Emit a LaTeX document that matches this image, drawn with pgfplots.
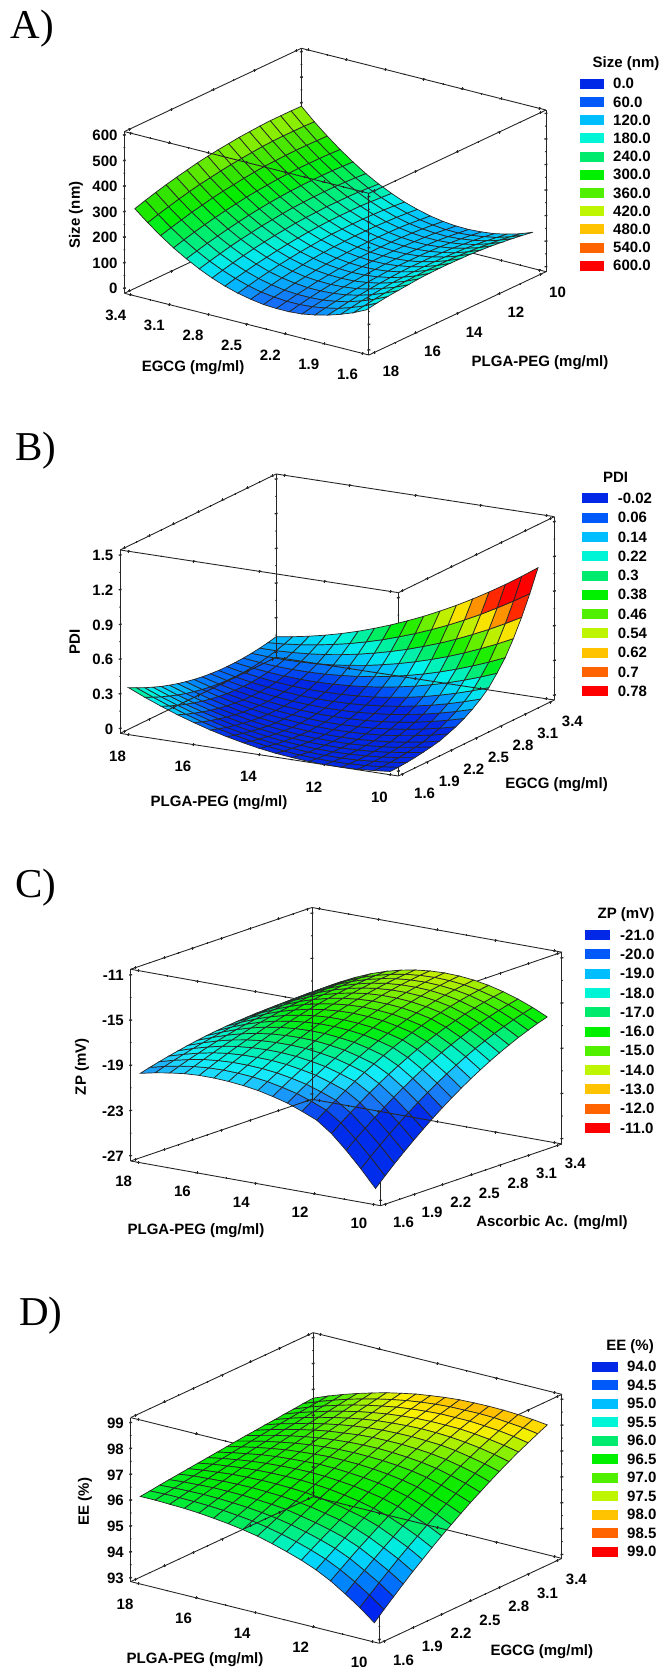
\documentclass[border=0pt]{standalone}
\usepackage{pgfplots}
\pgfplotsset{compat=1.18}
\usepackage{fontspec}
\setmainfont{Liberation Sans}
\newfontfamily\serifpanel{Liberation Serif}
\newcommand{\lf}{\fontsize{15}{15}\selectfont\bfseries}
\definecolor{c0}{RGB}{0,40,230}
\definecolor{c1}{RGB}{0,90,250}
\definecolor{c2}{RGB}{0,190,255}
\definecolor{c3}{RGB}{0,245,215}
\definecolor{c4}{RGB}{0,235,110}
\definecolor{c5}{RGB}{0,240,0}
\definecolor{c6}{RGB}{80,240,0}
\definecolor{c7}{RGB}{190,245,0}
\definecolor{c8}{RGB}{255,195,0}
\definecolor{c9}{RGB}{255,100,0}
\definecolor{c10}{RGB}{255,0,0}
\pgfplotsset{
 panel/.style={
  anchor=south west, clip=false, 3d box=complete*,
  axis line style={black!85,line width=0.9pt},
  tick style={black!85,line width=0.7pt},
  major tick length=3pt, minor tick length=1.5pt,
  minor x tick num=1, minor y tick num=1, minor z tick num=1,
  tick align=center,
  grid=none,
  tick label style={font=\lf,black},
 },
 srf/.style={surf,shader=faceted,faceted color=black!85,line width=0.7pt,z buffer=sort,point meta=z},
}
\newcommand{\sglegend}[9]{%
 \node[font=\lf,anchor=center] at (#6,-#7) {#8};
 \foreach \lab [count=\i from 0] in {#9} {
  \fill[c\i] (#1,{-(#4+\i*#5)-5}) rectangle (#2,{-(#4+\i*#5)+5});
  \node[font=\lf,anchor=west,inner sep=0pt] at (#3,{-(#4+\i*#5)}) {\lab};
 }}
\begin{document}
\begin{tikzpicture}[x=1pt,y=1pt]
\useasboundingbox (0,0) rectangle (661,-1667);
\begin{axis}[panel,at={(124.4pt,-355pt)},
 x={(-128.7pt,32.5pt)},y={(-20.83pt,-9.80pt)},z={(0pt,0.2554pt)},
 xmin=1.55,xmax=3.45,ymin=9.75,ymax=18.25,zmin=-20,zmax=613,
 xtick={1.6,1.9,2.2,2.5,2.8,3.1,3.4},xticklabels={1.6,1.9,2.2,2.5,2.8,3.1,3.4},
 ytick={10,12,14,16,18},yticklabels={10,12,14,16,18},
 ztick={0,100,200,300,400,500,600},zticklabels={0,100,200,300,400,500,600},
 xticklabel style={anchor=center,xshift=-13.7pt,yshift=-20.3pt},
 yticklabel style={anchor=center,xshift=15.3pt,yshift=-18.2pt},
 zticklabel style={anchor=east,xshift=-2pt},
 colormap={sga}{rgb255=(20,110,250) rgb255=(20,110,250) rgb255=(20,110,250) rgb255=(6,180,255) rgb255=(0,210,252) rgb255=(0,238,232) rgb255=(0,239,178) rgb255=(0,238,130) rgb255=(0,238,97) rgb255=(0,238,50) rgb255=(0,238,0) rgb255=(25,233,0) rgb255=(50,228,0) rgb255=(83,232,0) rgb255=(118,236,0) rgb255=(155,239,0) rgb255=(180,240,0)},
 point meta min=0,point meta max=400,
 xlabel={EGCG (mg/ml)},ylabel={PLGA-PEG (mg/ml)},zlabel={Size (nm)},
 every axis x label/.style={font=\lf,at={(axis cs:2.5,18.25,-20)},anchor=center,xshift=-53.6pt,yshift=-43.9pt},
 every axis y label/.style={font=\lf,at={(axis cs:1.55,14,-20)},anchor=center,xshift=82.6pt,yshift=-49.65pt},
 every axis z label/.style={font=\lf,at={(axis cs:3.45,18.25,300)},anchor=center,xshift=-48.4pt,yshift=-3.4pt,rotate=90},
]
\addplot3[srf,mesh/cols=17] table {
1.65 9.75 122
1.65 10.25 129
1.65 10.75 135
1.65 11.25 140
1.65 11.75 145
1.65 12.25 148
1.65 12.75 151
1.65 13.25 152
1.65 13.75 153
1.65 14.25 153
1.65 14.75 152
1.65 15.25 150
1.65 15.75 146
1.65 16.25 142
1.65 16.75 138
1.65 17.25 132
1.65 17.75 125
1.75 9.75 103
1.75 10.25 110
1.75 10.75 116
1.75 11.25 121
1.75 11.75 125
1.75 12.25 128
1.75 12.75 131
1.75 13.25 132
1.75 13.75 132
1.75 14.25 132
1.75 14.75 130
1.75 15.25 128
1.75 15.75 124
1.75 16.25 120
1.75 16.75 115
1.75 17.25 108
1.75 17.75 101
1.85 9.75 89
1.85 10.25 95
1.85 10.75 101
1.85 11.25 106
1.85 11.75 110
1.85 12.25 112
1.85 12.75 114
1.85 13.25 115
1.85 13.75 115
1.85 14.25 114
1.85 14.75 112
1.85 15.25 110
1.85 15.75 106
1.85 16.25 101
1.85 16.75 96
1.85 17.25 89
1.85 17.75 82
1.95 9.75 78
1.95 10.25 85
1.95 10.75 90
1.95 11.25 94
1.95 11.75 98
1.95 12.25 100
1.95 12.75 102
1.95 13.25 102
1.95 13.75 102
1.95 14.25 101
1.95 14.75 98
1.95 15.25 95
1.95 15.75 91
1.95 16.25 86
1.95 16.75 80
1.95 17.25 73
1.95 17.75 66
2.05 9.75 72
2.05 10.25 78
2.05 10.75 83
2.05 11.25 87
2.05 11.75 90
2.05 12.25 92
2.05 12.75 93
2.05 13.25 93
2.05 13.75 93
2.05 14.25 91
2.05 14.75 88
2.05 15.25 85
2.05 15.75 80
2.05 16.25 75
2.05 16.75 69
2.05 17.25 62
2.05 17.75 54
2.15 9.75 69
2.15 10.25 74
2.15 10.75 79
2.15 11.25 83
2.15 11.75 85
2.15 12.25 87
2.15 12.75 88
2.15 13.25 88
2.15 13.75 87
2.15 14.25 85
2.15 14.75 82
2.15 15.25 78
2.15 15.75 74
2.15 16.25 68
2.15 16.75 61
2.15 17.25 54
2.15 17.75 45
2.25 9.75 70
2.25 10.25 75
2.25 10.75 80
2.25 11.25 83
2.25 11.75 85
2.25 12.25 87
2.25 12.75 87
2.25 13.25 87
2.25 13.75 86
2.25 14.25 83
2.25 14.75 80
2.25 15.25 76
2.25 15.75 71
2.25 16.25 65
2.25 16.75 58
2.25 17.25 50
2.25 17.75 41
2.35 9.75 75
2.35 10.25 80
2.35 10.75 84
2.35 11.25 87
2.35 11.75 89
2.35 12.25 90
2.35 12.75 90
2.35 13.25 89
2.35 13.75 88
2.35 14.25 85
2.35 14.75 82
2.35 15.25 77
2.35 15.75 72
2.35 16.25 65
2.35 16.75 58
2.35 17.25 50
2.35 17.75 41
2.45 9.75 84
2.45 10.25 88
2.45 10.75 92
2.45 11.25 95
2.45 11.75 96
2.45 12.25 97
2.45 12.75 97
2.45 13.25 96
2.45 13.75 94
2.45 14.25 91
2.45 14.75 87
2.45 15.25 82
2.45 15.75 76
2.45 16.25 70
2.45 16.75 62
2.45 17.25 54
2.45 17.75 44
2.55 9.75 97
2.55 10.25 101
2.55 10.75 104
2.55 11.25 106
2.55 11.75 108
2.55 12.25 108
2.55 12.75 108
2.55 13.25 106
2.55 13.75 104
2.55 14.25 101
2.55 14.75 97
2.55 15.25 91
2.55 15.75 85
2.55 16.25 78
2.55 16.75 70
2.55 17.25 61
2.55 17.75 52
2.65 9.75 113
2.65 10.25 117
2.65 10.75 120
2.65 11.25 122
2.65 11.75 123
2.65 12.25 123
2.65 12.75 122
2.65 13.25 121
2.65 13.75 118
2.65 14.25 114
2.65 14.75 110
2.65 15.25 104
2.65 15.75 98
2.65 16.25 90
2.65 16.75 82
2.65 17.25 73
2.65 17.75 63
2.75 9.75 134
2.75 10.25 137
2.75 10.75 140
2.75 11.25 142
2.75 11.75 142
2.75 12.25 142
2.75 12.75 141
2.75 13.25 139
2.75 13.75 136
2.75 14.25 132
2.75 14.75 127
2.75 15.25 121
2.75 15.75 114
2.75 16.25 107
2.75 16.75 98
2.75 17.25 89
2.75 17.75 78
2.85 9.75 158
2.85 10.25 161
2.85 10.75 164
2.85 11.25 165
2.85 11.75 165
2.85 12.25 165
2.85 12.75 163
2.85 13.25 161
2.85 13.75 158
2.85 14.25 153
2.85 14.75 148
2.85 15.25 142
2.85 15.75 135
2.85 16.25 127
2.85 16.75 118
2.85 17.25 108
2.85 17.75 97
2.95 9.75 186
2.95 10.25 189
2.95 10.75 191
2.95 11.25 192
2.95 11.75 192
2.95 12.25 191
2.95 12.75 189
2.95 13.25 187
2.95 13.75 183
2.95 14.25 178
2.95 14.75 173
2.95 15.25 166
2.95 15.75 159
2.95 16.25 151
2.95 16.75 141
2.95 17.25 131
2.95 17.75 120
3.05 9.75 219
3.05 10.25 221
3.05 10.75 223
3.05 11.25 223
3.05 11.75 223
3.05 12.25 222
3.05 12.75 220
3.05 13.25 217
3.05 13.75 213
3.05 14.25 208
3.05 14.75 202
3.05 15.25 195
3.05 15.75 187
3.05 16.25 178
3.05 16.75 169
3.05 17.25 158
3.05 17.75 147
3.15 9.75 255
3.15 10.25 257
3.15 10.75 258
3.15 11.25 258
3.15 11.75 258
3.15 12.25 256
3.15 12.75 254
3.15 13.25 250
3.15 13.75 246
3.15 14.25 241
3.15 14.75 234
3.15 15.25 227
3.15 15.75 219
3.15 16.25 210
3.15 16.75 200
3.15 17.25 189
3.15 17.75 177
3.25 9.75 295
3.25 10.25 296
3.25 10.75 297
3.25 11.25 297
3.25 11.75 296
3.25 12.25 294
3.25 12.75 292
3.25 13.25 288
3.25 13.75 283
3.25 14.25 277
3.25 14.75 271
3.25 15.25 264
3.25 15.75 255
3.25 16.25 246
3.25 16.75 235
3.25 17.25 224
3.25 17.75 212
3.35 9.75 338
3.35 10.25 340
3.35 10.75 340
3.35 11.25 340
3.35 11.75 339
3.35 12.25 337
3.35 12.75 333
3.35 13.25 329
3.35 13.75 324
3.35 14.25 318
3.35 14.75 311
3.35 15.25 304
3.35 15.75 295
3.35 16.25 285
3.35 16.75 274
3.35 17.25 263
3.35 17.75 250
3.45 9.75 386
3.45 10.25 387
3.45 10.75 387
3.45 11.25 387
3.45 11.75 385
3.45 12.25 382
3.45 12.75 379
3.45 13.25 374
3.45 13.75 369
3.45 14.25 363
3.45 14.75 356
3.45 15.25 347
3.45 15.75 338
3.45 16.25 328
3.45 16.75 317
3.45 17.25 305
3.45 17.75 292
};
\end{axis}
\begin{axis}[panel,at={(120.2pt,-776pt)},
 x={(-32.73pt,5.02pt)},y={(82.1pt,40pt)},z={(0pt,115.6pt)},
 xmin=9.75,xmax=18.25,ymin=1.55,ymax=3.45,zmin=-0.043,zmax=1.543,
 ytick={1.6,1.9,2.2,2.5,2.8,3.1,3.4},yticklabels={1.6,1.9,2.2,2.5,2.8,3.1,3.4},
 xtick={10,12,14,16,18},xticklabels={10,12,14,16,18},
 ztick={0,0.3,0.6,0.9,1.2,1.5},zticklabels={0,0.3,0.6,0.9,1.2,1.5},
 xticklabel style={anchor=center,xshift=-9.5pt,yshift=-21.5pt},
 yticklabel style={anchor=center,xshift=20.6pt,yshift=-19pt},
 zticklabel style={anchor=east,xshift=-2pt},
 colormap={sgb}{rgb255=(0,40,230) rgb255=(0,40,230) rgb255=(0,90,250) rgb255=(0,140,252) rgb255=(0,190,255) rgb255=(0,217,245) rgb255=(0,245,235) rgb255=(0,241,182) rgb255=(0,238,130) rgb255=(0,238,65) rgb255=(0,238,0) rgb255=(40,238,0) rgb255=(80,238,0) rgb255=(135,239,0) rgb255=(190,240,0) rgb255=(222,232,0) rgb255=(255,225,0) rgb255=(255,177,0) rgb255=(255,130,0) rgb255=(255,75,0) rgb255=(255,20,0) rgb255=(255,0,0) rgb255=(255,0,0) rgb255=(255,0,0)},
 point meta min=-0.02,point meta max=0.9,
 xlabel={PLGA-PEG (mg/ml)},ylabel={EGCG (mg/ml)},zlabel={PDI},
 every axis x label/.style={font=\lf,at={(axis cs:14,1.55,-0.043)},anchor=center,xshift=-40.3pt,yshift=-48pt},
 every axis y label/.style={font=\lf,at={(axis cs:9.75,2.5,-0.043)},anchor=center,xshift=80.1pt,yshift=-47pt},
 every axis z label/.style={font=\lf,at={(axis cs:18.25,1.55,0.75)},anchor=center,xshift=-45.6pt,yshift=0pt,rotate=90},
]
\addplot3[srf,mesh/cols=19] table {
10.25 1.65 -0.06
10.25 1.75 -0.058
10.25 1.85 -0.052
10.25 1.95 -0.044
10.25 2.05 -0.033
10.25 2.15 -0.02
10.25 2.25 -0.005
10.25 2.35 0.022
10.25 2.45 0.05
10.25 2.55 0.087
10.25 2.65 0.132
10.25 2.75 0.186
10.25 2.85 0.25
10.25 2.95 0.34
10.25 3.05 0.44
10.25 3.15 0.57
10.25 3.25 0.72
10.25 3.35 0.89
10.25 3.45 1.08
10.75 1.65 -0.074
10.75 1.75 -0.075
10.75 1.85 -0.071
10.75 1.95 -0.066
10.75 2.05 -0.057
10.75 2.15 -0.046
10.75 2.25 -0.034
10.75 2.35 -0.009
10.75 2.45 0.016
10.75 2.55 0.05
10.75 2.65 0.091
10.75 2.75 0.142
10.75 2.85 0.202
10.75 2.95 0.286
10.75 3.05 0.38
10.75 3.15 0.502
10.75 3.25 0.644
10.75 3.35 0.804
10.75 3.45 0.983
11.25 1.65 -0.084
11.25 1.75 -0.086
11.25 1.85 -0.085
11.25 1.95 -0.082
11.25 2.05 -0.076
11.25 2.15 -0.068
11.25 2.25 -0.057
11.25 2.35 -0.036
11.25 2.45 -0.013
11.25 2.55 0.018
11.25 2.65 0.056
11.25 2.75 0.102
11.25 2.85 0.158
11.25 2.95 0.237
11.25 3.05 0.325
11.25 3.15 0.44
11.25 3.25 0.572
11.25 3.35 0.723
11.25 3.45 0.891
11.75 1.65 -0.088
11.75 1.75 -0.093
11.75 1.85 -0.095
11.75 1.95 -0.094
11.75 2.05 -0.09
11.75 2.15 -0.084
11.75 2.25 -0.076
11.75 2.35 -0.057
11.75 2.45 -0.037
11.75 2.55 -0.01
11.75 2.65 0.025
11.75 2.75 0.068
11.75 2.85 0.12
11.75 2.95 0.193
11.75 3.05 0.275
11.75 3.15 0.382
11.75 3.25 0.506
11.75 3.35 0.646
11.75 3.45 0.804
12.25 1.65 -0.087
12.25 1.75 -0.095
12.25 1.85 -0.099
12.25 1.95 -0.1
12.25 2.05 -0.099
12.25 2.15 -0.095
12.25 2.25 -0.089
12.25 2.35 -0.074
12.25 2.45 -0.056
12.25 2.55 -0.032
12.25 2.65 0
12.25 2.75 0.039
12.25 2.85 0.086
12.25 2.95 0.154
12.25 3.05 0.23
12.25 3.15 0.329
12.25 3.25 0.444
12.25 3.35 0.575
12.25 3.45 0.722
12.75 1.65 -0.082
12.75 1.75 -0.092
12.75 1.85 -0.098
12.75 1.95 -0.102
12.75 2.05 -0.103
12.75 2.15 -0.102
12.75 2.25 -0.098
12.75 2.35 -0.085
12.75 2.45 -0.071
12.75 2.55 -0.049
12.75 2.65 -0.021
12.75 2.75 0.015
12.75 2.85 0.058
12.75 2.95 0.12
12.75 3.05 0.19
12.75 3.15 0.282
12.75 3.25 0.388
12.75 3.35 0.509
12.75 3.45 0.645
13.25 1.65 -0.07
13.25 1.75 -0.082
13.25 1.85 -0.091
13.25 1.95 -0.098
13.25 2.05 -0.101
13.25 2.15 -0.102
13.25 2.25 -0.101
13.25 2.35 -0.091
13.25 2.45 -0.079
13.25 2.55 -0.06
13.25 2.65 -0.035
13.25 2.75 -0.004
13.25 2.85 0.036
13.25 2.95 0.092
13.25 3.05 0.156
13.25 3.15 0.24
13.25 3.25 0.338
13.25 3.35 0.449
13.25 3.45 0.574
13.75 1.65 -0.055
13.75 1.75 -0.069
13.75 1.85 -0.081
13.75 1.95 -0.089
13.75 2.05 -0.095
13.75 2.15 -0.099
13.75 2.25 -0.099
13.75 2.35 -0.092
13.75 2.45 -0.083
13.75 2.55 -0.067
13.75 2.65 -0.046
13.75 2.75 -0.018
13.75 2.85 0.017
13.75 2.95 0.068
13.75 3.05 0.126
13.75 3.15 0.203
13.75 3.25 0.291
13.75 3.35 0.393
13.75 3.45 0.507
14.25 1.65 -0.034
14.25 1.75 -0.05
14.25 1.85 -0.065
14.25 1.95 -0.076
14.25 2.05 -0.084
14.25 2.15 -0.09
14.25 2.25 -0.093
14.25 2.35 -0.088
14.25 2.45 -0.082
14.25 2.55 -0.069
14.25 2.65 -0.051
14.25 2.75 -0.027
14.25 2.85 0.005
14.25 2.95 0.05
14.25 3.05 0.102
14.25 3.15 0.171
14.25 3.25 0.251
14.25 3.35 0.343
14.25 3.45 0.446
14.75 1.65 -0.007
14.75 1.75 -0.027
14.75 1.85 -0.043
14.75 1.95 -0.057
14.75 2.05 -0.068
14.75 2.15 -0.075
14.75 2.25 -0.081
14.75 2.35 -0.079
14.75 2.45 -0.075
14.75 2.55 -0.066
14.75 2.65 -0.051
14.75 2.75 -0.03
14.75 2.85 -0.003
14.75 2.95 0.037
14.75 3.05 0.083
14.75 3.15 0.143
14.75 3.25 0.215
14.75 3.35 0.296
14.75 3.45 0.389
15.25 1.65 0.024
15.25 1.75 0.003
15.25 1.85 -0.016
15.25 1.95 -0.032
15.25 2.05 -0.046
15.25 2.15 -0.056
15.25 2.25 -0.063
15.25 2.35 -0.064
15.25 2.45 -0.063
15.25 2.55 -0.057
15.25 2.65 -0.045
15.25 2.75 -0.029
15.25 2.85 -0.006
15.25 2.95 0.029
15.25 3.05 0.069
15.25 3.15 0.122
15.25 3.25 0.184
15.25 3.35 0.256
15.25 3.45 0.338
15.75 1.65 0.06
15.75 1.75 0.036
15.75 1.85 0.014
15.75 1.95 -0.004
15.75 2.05 -0.02
15.75 2.15 -0.032
15.75 2.25 -0.042
15.75 2.35 -0.046
15.75 2.45 -0.047
15.75 2.55 -0.044
15.75 2.65 -0.036
15.75 2.75 -0.023
15.75 2.85 -0.004
15.75 2.95 0.025
15.75 3.05 0.059
15.75 3.15 0.104
15.75 3.25 0.158
15.75 3.35 0.22
15.75 3.45 0.291
16.25 1.65 0.102
16.25 1.75 0.075
16.25 1.85 0.051
16.25 1.95 0.031
16.25 2.05 0.012
16.25 2.15 -0.002
16.25 2.25 -0.014
16.25 2.35 -0.021
16.25 2.45 -0.025
16.25 2.55 -0.025
16.25 2.65 -0.02
16.25 2.75 -0.011
16.25 2.85 0.003
16.25 2.95 0.027
16.25 3.05 0.055
16.25 3.15 0.092
16.25 3.25 0.137
16.25 3.35 0.19
16.25 3.45 0.25
16.75 1.65 0.148
16.75 1.75 0.119
16.75 1.85 0.093
16.75 1.95 0.07
16.75 2.05 0.049
16.75 2.15 0.032
16.75 2.25 0.018
16.75 2.35 0.008
16.75 2.45 0.001
16.75 2.55 -0.001
16.75 2.65 0
16.75 2.75 0.006
16.75 2.85 0.016
16.75 2.95 0.034
16.75 3.05 0.056
16.75 3.15 0.086
16.75 3.25 0.122
16.75 3.35 0.165
16.75 3.45 0.214
17.25 1.65 0.2
17.25 1.75 0.169
17.25 1.85 0.14
17.25 1.95 0.114
17.25 2.05 0.091
17.25 2.15 0.072
17.25 2.25 0.055
17.25 2.35 0.043
17.25 2.45 0.033
17.25 2.55 0.027
17.25 2.65 0.026
17.25 2.75 0.027
17.25 2.85 0.034
17.25 2.95 0.046
17.25 3.05 0.062
17.25 3.15 0.084
17.25 3.25 0.112
17.25 3.35 0.144
17.25 3.45 0.183
17.75 1.65 0.256
17.75 1.75 0.223
17.75 1.85 0.191
17.75 1.95 0.164
17.75 2.05 0.138
17.75 2.15 0.116
17.75 2.25 0.098
17.75 2.35 0.082
17.75 2.45 0.07
17.75 2.55 0.061
17.75 2.65 0.056
17.75 2.75 0.054
17.75 2.85 0.056
17.75 2.95 0.063
17.75 3.05 0.073
17.75 3.15 0.088
17.75 3.25 0.106
17.75 3.35 0.129
17.75 3.45 0.157
18.25 1.65 0.318
18.25 1.75 0.282
18.25 1.85 0.248
18.25 1.95 0.218
18.25 2.05 0.19
18.25 2.15 0.166
18.25 2.25 0.145
18.25 2.35 0.127
18.25 2.45 0.112
18.25 2.55 0.1
18.25 2.65 0.092
18.25 2.75 0.086
18.25 2.85 0.084
18.25 2.95 0.085
18.25 3.05 0.089
18.25 3.15 0.096
18.25 3.25 0.106
18.25 3.35 0.119
18.25 3.45 0.136
};
\end{axis}
\begin{axis}[panel,at={(130.7pt,-1205.7pt)},
 x={(-29.41pt,5.26pt)},y={(95.4pt,32.5pt)},z={(0pt,11.30pt)},
 xmin=9.75,xmax=18.25,ymin=1.55,ymax=3.45,zmin=-27.47,zmax=-10.5,
 ytick={1.6,1.9,2.2,2.5,2.8,3.1,3.4},yticklabels={1.6,1.9,2.2,2.5,2.8,3.1,3.4},
 xtick={10,12,14,16,18},xticklabels={10,12,14,16,18},
 ztick={-27,-23,-19,-15,-11},zticklabels={-27,-23,-19,-15,-11},
 xticklabel style={anchor=center,xshift=-13pt,yshift=-18.3pt},
 yticklabel style={anchor=center,xshift=16.6pt,yshift=-17.9pt},
 zticklabel style={anchor=east,xshift=-2pt},
 colormap={sgc}{rgb255=(0,45,235) rgb255=(25,120,246) rgb255=(25,135,248) rgb255=(25,155,250) rgb255=(27,180,252) rgb255=(30,210,255) rgb255=(24,228,255) rgb255=(16,240,245) rgb255=(6,240,225) rgb255=(0,240,200) rgb255=(0,240,170) rgb255=(0,240,140) rgb255=(0,239,100) rgb255=(0,238,60) rgb255=(0,238,20) rgb255=(8,238,0) rgb255=(28,238,0) rgb255=(50,238,0) rgb255=(80,238,0) rgb255=(110,238,0) rgb255=(145,238,0) rgb255=(180,238,0) rgb255=(214,238,0)},
 point meta min=-20.7,point meta max=-14.1,
 xlabel={PLGA-PEG (mg/ml)},ylabel={Ascorbic Ac. (mg/ml)},zlabel={ZP (mV)},
 every axis x label/.style={font=\lf,at={(axis cs:14,1.55,-27.47)},anchor=center,xshift=-59.7pt,yshift=-47.7pt},
 every axis y label/.style={font=\lf,at={(axis cs:9.75,2.5,-27.47)},anchor=center,xshift=80.7pt,yshift=-47.9pt},
 every axis z label/.style={font=\lf,at={(axis cs:18.25,1.55,-19)},anchor=center,xshift=-48.7pt,yshift=-1.4pt,rotate=90},
]
\addplot3[srf,mesh/cols=19] table {
10.25 1.65 -26.47
10.25 1.75 -25.64
10.25 1.85 -24.84
10.25 1.95 -24.08
10.25 2.05 -23.35
10.25 2.15 -22.65
10.25 2.25 -21.98
10.25 2.35 -21.34
10.25 2.45 -20.74
10.25 2.55 -20.17
10.25 2.65 -19.62
10.25 2.75 -19.12
10.25 2.85 -18.64
10.25 2.95 -18.20
10.25 3.05 -17.79
10.25 3.15 -17.41
10.25 3.25 -17.06
10.25 3.35 -16.74
10.25 3.45 -16.46
10.75 1.65 -24.95
10.75 1.75 -24.18
10.75 1.85 -23.44
10.75 1.95 -22.73
10.75 2.05 -22.06
10.75 2.15 -21.41
10.75 2.25 -20.80
10.75 2.35 -20.21
10.75 2.45 -19.66
10.75 2.55 -19.14
10.75 2.65 -18.65
10.75 2.75 -18.19
10.75 2.85 -17.76
10.75 2.95 -17.37
10.75 3.05 -17.00
10.75 3.15 -16.67
10.75 3.25 -16.36
10.75 3.35 -16.09
10.75 3.45 -15.85
11.25 1.65 -23.55
11.25 1.75 -22.84
11.25 1.85 -22.16
11.25 1.95 -21.50
11.25 2.05 -20.88
11.25 2.15 -20.29
11.25 2.25 -19.73
11.25 2.35 -19.20
11.25 2.45 -18.70
11.25 2.55 -18.23
11.25 2.65 -17.78
11.25 2.75 -17.37
11.25 2.85 -16.99
11.25 2.95 -16.64
11.25 3.05 -16.32
11.25 3.15 -16.03
11.25 3.25 -15.77
11.25 3.35 -15.54
11.25 3.45 -15.34
11.75 1.65 -22.3
11.75 1.75 -21.64
11.75 1.85 -21.02
11.75 1.95 -20.42
11.75 2.05 -19.85
11.75 2.15 -19.31
11.75 2.25 -18.79
11.75 2.35 -18.31
11.75 2.45 -17.86
11.75 2.55 -17.43
11.75 2.65 -17.04
11.75 2.75 -16.67
11.75 2.85 -16.33
11.75 2.95 -16.03
11.75 3.05 -15.75
11.75 3.15 -15.50
11.75 3.25 -15.28
11.75 3.35 -15.08
11.75 3.45 -14.92
12.25 1.65 -21.35
12.25 1.75 -20.74
12.25 1.85 -20.15
12.25 1.95 -19.59
12.25 2.05 -19.06
12.25 2.15 -18.56
12.25 2.25 -18.09
12.25 2.35 -17.64
12.25 2.45 -17.22
12.25 2.55 -16.83
12.25 2.65 -16.47
12.25 2.75 -16.14
12.25 2.85 -15.83
12.25 2.95 -15.56
12.25 3.05 -15.31
12.25 3.15 -15.09
12.25 3.25 -14.89
12.25 3.35 -14.73
12.25 3.45 -14.59
12.75 1.65 -20.8
12.75 1.75 -20.21
12.75 1.85 -19.65
12.75 1.95 -19.12
12.75 2.05 -18.61
12.75 2.15 -18.13
12.75 2.25 -17.68
12.75 2.35 -17.25
12.75 2.45 -16.85
12.75 2.55 -16.48
12.75 2.65 -16.14
12.75 2.75 -15.82
12.75 2.85 -15.53
12.75 2.95 -15.27
12.75 3.05 -15.03
12.75 3.15 -14.82
12.75 3.25 -14.64
12.75 3.35 -14.49
12.75 3.45 -14.36
13.25 1.65 -20.3
13.25 1.75 -19.74
13.25 1.85 -19.21
13.25 1.95 -18.70
13.25 2.05 -18.22
13.25 2.15 -17.77
13.25 2.25 -17.34
13.25 2.35 -16.93
13.25 2.45 -16.56
13.25 2.55 -16.21
13.25 2.65 -15.88
13.25 2.75 -15.59
13.25 2.85 -15.31
13.25 2.95 -15.07
13.25 3.05 -14.85
13.25 3.15 -14.65
13.25 3.25 -14.49
13.25 3.35 -14.35
13.25 3.45 -14.23
13.75 1.65 -19.95
13.75 1.75 -19.42
13.75 1.85 -18.91
13.75 1.95 -18.43
13.75 2.05 -17.97
13.75 2.15 -17.54
13.75 2.25 -17.13
13.75 2.35 -16.75
13.75 2.45 -16.39
13.75 2.55 -16.06
13.75 2.65 -15.75
13.75 2.75 -15.47
13.75 2.85 -15.21
13.75 2.95 -14.98
13.75 3.05 -14.77
13.75 3.15 -14.59
13.75 3.25 -14.43
13.75 3.35 -14.30
13.75 3.45 -14.19
14.25 1.65 -19.65
14.25 1.75 -19.15
14.25 1.85 -18.67
14.25 1.95 -18.21
14.25 2.05 -17.78
14.25 2.15 -17.37
14.25 2.25 -16.98
14.25 2.35 -16.62
14.25 2.45 -16.29
14.25 2.55 -15.98
14.25 2.65 -15.69
14.25 2.75 -15.42
14.25 2.85 -15.18
14.25 2.95 -14.97
14.25 3.05 -14.78
14.25 3.15 -14.61
14.25 3.25 -14.47
14.25 3.35 -14.35
14.25 3.45 -14.25
14.75 1.65 -19.45
14.75 1.75 -18.97
14.75 1.85 -18.52
14.75 1.95 -18.09
14.75 2.05 -17.68
14.75 2.15 -17.30
14.75 2.25 -16.94
14.75 2.35 -16.60
14.75 2.45 -16.28
14.75 2.55 -15.99
14.75 2.65 -15.72
14.75 2.75 -15.48
14.75 2.85 -15.25
14.75 2.95 -15.05
14.75 3.05 -14.88
14.75 3.15 -14.72
14.75 3.25 -14.59
14.75 3.35 -14.49
14.75 3.45 -14.40
15.25 1.65 -19.32
15.25 1.75 -18.87
15.25 1.85 -18.45
15.25 1.95 -18.05
15.25 2.05 -17.66
15.25 2.15 -17.31
15.25 2.25 -16.97
15.25 2.35 -16.65
15.25 2.45 -16.36
15.25 2.55 -16.09
15.25 2.65 -15.84
15.25 2.75 -15.62
15.25 2.85 -15.41
15.25 2.95 -15.23
15.25 3.05 -15.07
15.25 3.15 -14.93
15.25 3.25 -14.82
15.25 3.35 -14.72
15.25 3.45 -14.65
15.75 1.65 -19.25
15.75 1.75 -18.83
15.75 1.85 -18.44
15.75 1.95 -18.07
15.75 2.05 -17.71
15.75 2.15 -17.38
15.75 2.25 -17.07
15.75 2.35 -16.78
15.75 2.45 -16.52
15.75 2.55 -16.27
15.75 2.65 -16.04
15.75 2.75 -15.84
15.75 2.85 -15.65
15.75 2.95 -15.49
15.75 3.05 -15.35
15.75 3.15 -15.23
15.75 3.25 -15.13
15.75 3.35 -15.05
15.75 3.45 -14.99
16.25 1.65 -19.25
16.25 1.75 -18.87
16.25 1.85 -18.51
16.25 1.95 -18.16
16.25 2.05 -17.84
16.25 2.15 -17.54
16.25 2.25 -17.26
16.25 2.35 -16.99
16.25 2.45 -16.75
16.25 2.55 -16.53
16.25 2.65 -16.33
16.25 2.75 -16.14
16.25 2.85 -15.98
16.25 2.95 -15.84
16.25 3.05 -15.72
16.25 3.15 -15.62
16.25 3.25 -15.53
16.25 3.35 -15.47
16.25 3.45 -15.43
16.75 1.65 -19.33
16.75 1.75 -18.98
16.75 1.85 -18.65
16.75 1.95 -18.34
16.75 2.05 -18.05
16.75 2.15 -17.78
16.75 2.25 -17.52
16.75 2.35 -17.29
16.75 2.45 -17.07
16.75 2.55 -16.88
16.75 2.65 -16.70
16.75 2.75 -16.54
16.75 2.85 -16.40
16.75 2.95 -16.28
16.75 3.05 -16.18
16.75 3.15 -16.10
16.75 3.25 -16.04
16.75 3.35 -16.00
16.75 3.45 -15.97
17.25 1.65 -19.5
17.25 1.75 -19.18
17.25 1.85 -18.89
17.25 1.95 -18.61
17.25 2.05 -18.35
17.25 2.15 -18.10
17.25 2.25 -17.88
17.25 2.35 -17.67
17.25 2.45 -17.48
17.25 2.55 -17.31
17.25 2.65 -17.16
17.25 2.75 -17.03
17.25 2.85 -16.91
17.25 2.95 -16.81
17.25 3.05 -16.73
17.25 3.15 -16.67
17.25 3.25 -16.62
17.25 3.35 -16.60
17.25 3.45 -16.59
17.75 1.65 -19.72
17.75 1.75 -19.44
17.75 1.85 -19.18
17.75 1.95 -18.94
17.75 2.05 -18.71
17.75 2.15 -18.50
17.75 2.25 -18.31
17.75 2.35 -18.13
17.75 2.45 -17.97
17.75 2.55 -17.83
17.75 2.65 -17.71
17.75 2.75 -17.60
17.75 2.85 -17.51
17.75 2.95 -17.43
17.75 3.05 -17.38
17.75 3.15 -17.34
17.75 3.25 -17.31
17.75 3.35 -17.31
17.75 3.45 -17.32
18.25 1.65 -20
18.25 1.75 -19.76
18.25 1.85 -19.54
18.25 1.95 -19.33
18.25 2.05 -19.14
18.25 2.15 -18.96
18.25 2.25 -18.80
18.25 2.35 -18.66
18.25 2.45 -18.53
18.25 2.55 -18.42
18.25 2.65 -18.33
18.25 2.75 -18.25
18.25 2.85 -18.18
18.25 2.95 -18.14
18.25 3.05 -18.10
18.25 3.15 -18.09
18.25 3.25 -18.09
18.25 3.35 -18.11
18.25 3.45 -18.14
};
\end{axis}
\begin{axis}[panel,at={(130.7pt,-1643.3pt)},
 x={(-29.26pt,7.26pt)},y={(96.05pt,44.7pt)},z={(0pt,25.87pt)},
 xmin=9.75,xmax=18.25,ymin=1.55,ymax=3.45,zmin=92.85,zmax=99.19,
 ytick={1.6,1.9,2.2,2.5,2.8,3.1,3.4},yticklabels={1.6,1.9,2.2,2.5,2.8,3.1,3.4},
 xtick={10,12,14,16,18},xticklabels={10,12,14,16,18},
 ztick={93,94,95,96,97,98,99},zticklabels={93,94,95,96,97,98,99},
 xticklabel style={anchor=center,xshift=-11.6pt,yshift=-20pt},
 yticklabel style={anchor=center,xshift=17.8pt,yshift=-18.7pt},
 zticklabel style={anchor=east,xshift=-2pt},
 colormap={sgd}{rgb255=(0,30,240) rgb255=(0,60,245) rgb255=(0,105,251) rgb255=(0,135,253) rgb255=(0,160,255) rgb255=(0,187,255) rgb255=(0,222,250) rgb255=(0,242,215) rgb255=(0,240,170) rgb255=(0,237,115) rgb255=(0,235,70) rgb255=(0,235,30) rgb255=(0,235,0) rgb255=(7,235,0) rgb255=(20,235,0) rgb255=(40,235,0) rgb255=(85,238,0) rgb255=(135,240,0) rgb255=(190,240,0) rgb255=(255,240,0) rgb255=(255,205,0) rgb255=(255,165,0)},
 point meta min=93.9,point meta max=98.1,
 xlabel={PLGA-PEG (mg/ml)},ylabel={EGCG (mg/ml)},zlabel={EE (\%)},
 every axis x label/.style={font=\lf,at={(axis cs:14,1.55,92.85)},anchor=center,xshift=-60pt,yshift=-47.6pt},
 every axis y label/.style={font=\lf,at={(axis cs:9.75,2.5,92.85)},anchor=center,xshift=71.1pt,yshift=-50.9pt},
 every axis z label/.style={font=\lf,at={(axis cs:18.25,1.55,96)},anchor=center,xshift=-45.7pt,yshift=-1.6pt,rotate=90},
]
\addplot3[srf,mesh/cols=19] table {
10.25 1.65 93.33
10.25 1.75 93.67
10.25 1.85 93.99
10.25 1.95 94.31
10.25 2.05 94.62
10.25 2.15 94.91
10.25 2.25 95.20
10.25 2.35 95.48
10.25 2.45 95.74
10.25 2.55 96.00
10.25 2.65 96.25
10.25 2.75 96.48
10.25 2.85 96.71
10.25 2.95 96.93
10.25 3.05 97.14
10.25 3.15 97.34
10.25 3.25 97.52
10.25 3.35 97.70
10.25 3.45 97.87
10.75 1.65 93.78
10.75 1.75 94.09
10.75 1.85 94.39
10.75 1.95 94.68
10.75 2.05 94.97
10.75 2.15 95.24
10.75 2.25 95.50
10.75 2.35 95.76
10.75 2.45 96.00
10.75 2.55 96.24
10.75 2.65 96.46
10.75 2.75 96.68
10.75 2.85 96.89
10.75 2.95 97.09
10.75 3.05 97.28
10.75 3.15 97.46
10.75 3.25 97.63
10.75 3.35 97.79
10.75 3.45 97.94
11.25 1.65 94.17
11.25 1.75 94.46
11.25 1.85 94.73
11.25 1.95 95.00
11.25 2.05 95.26
11.25 2.15 95.51
11.25 2.25 95.76
11.25 2.35 95.99
11.25 2.45 96.22
11.25 2.55 96.43
11.25 2.65 96.64
11.25 2.75 96.84
11.25 2.85 97.03
11.25 2.95 97.21
11.25 3.05 97.39
11.25 3.15 97.55
11.25 3.25 97.71
11.25 3.35 97.85
11.25 3.45 97.99
11.75 1.65 94.53
11.75 1.75 94.79
11.75 1.85 95.05
11.75 1.95 95.30
11.75 2.05 95.53
11.75 2.15 95.77
11.75 2.25 95.99
11.75 2.35 96.20
11.75 2.45 96.41
11.75 2.55 96.61
11.75 2.65 96.80
11.75 2.75 96.98
11.75 2.85 97.15
11.75 2.95 97.32
11.75 3.05 97.47
11.75 3.15 97.62
11.75 3.25 97.76
11.75 3.35 97.90
11.75 3.45 98.02
12.25 1.65 94.82
12.25 1.75 95.06
12.25 1.85 95.30
12.25 1.95 95.53
12.25 2.05 95.75
12.25 2.15 95.96
12.25 2.25 96.16
12.25 2.35 96.36
12.25 2.45 96.55
12.25 2.55 96.73
12.25 2.65 96.91
12.25 2.75 97.07
12.25 2.85 97.23
12.25 2.95 97.39
12.25 3.05 97.53
12.25 3.15 97.67
12.25 3.25 97.80
12.25 3.35 97.92
12.25 3.45 98.03
12.75 1.65 95.05
12.75 1.75 95.27
12.75 1.85 95.49
12.75 1.95 95.70
12.75 2.05 95.91
12.75 2.15 96.10
12.75 2.25 96.29
12.75 2.35 96.47
12.75 2.45 96.65
12.75 2.55 96.82
12.75 2.65 96.98
12.75 2.75 97.13
12.75 2.85 97.28
12.75 2.95 97.42
12.75 3.05 97.56
12.75 3.15 97.68
12.75 3.25 97.80
12.75 3.35 97.91
12.75 3.45 98.02
13.25 1.65 95.24
13.25 1.75 95.45
13.25 1.85 95.65
13.25 1.95 95.84
13.25 2.05 96.03
13.25 2.15 96.22
13.25 2.25 96.39
13.25 2.35 96.56
13.25 2.45 96.72
13.25 2.55 96.88
13.25 2.65 97.03
13.25 2.75 97.17
13.25 2.85 97.31
13.25 2.95 97.44
13.25 3.05 97.57
13.25 3.15 97.68
13.25 3.25 97.80
13.25 3.35 97.90
13.25 3.45 98.00
13.75 1.65 95.41
13.75 1.75 95.60
13.75 1.85 95.79
13.75 1.95 95.96
13.75 2.05 96.14
13.75 2.15 96.31
13.75 2.25 96.47
13.75 2.35 96.62
13.75 2.45 96.77
13.75 2.55 96.92
13.75 2.65 97.05
13.75 2.75 97.19
13.75 2.85 97.31
13.75 2.95 97.43
13.75 3.05 97.55
13.75 3.15 97.66
13.75 3.25 97.76
13.75 3.35 97.86
13.75 3.45 97.95
14.25 1.65 95.56
14.25 1.75 95.73
14.25 1.85 95.90
14.25 1.95 96.07
14.25 2.05 96.22
14.25 2.15 96.38
14.25 2.25 96.52
14.25 2.35 96.66
14.25 2.45 96.80
14.25 2.55 96.93
14.25 2.65 97.06
14.25 2.75 97.18
14.25 2.85 97.30
14.25 2.95 97.41
14.25 3.05 97.51
14.25 3.15 97.61
14.25 3.25 97.71
14.25 3.35 97.80
14.25 3.45 97.88
14.75 1.65 95.67
14.75 1.75 95.83
14.75 1.85 95.98
14.75 1.95 96.13
14.75 2.05 96.27
14.75 2.15 96.41
14.75 2.25 96.55
14.75 2.35 96.68
14.75 2.45 96.81
14.75 2.55 96.93
14.75 2.65 97.04
14.75 2.75 97.15
14.75 2.85 97.26
14.75 2.95 97.36
14.75 3.05 97.46
14.75 3.15 97.55
14.75 3.25 97.64
14.75 3.35 97.72
14.75 3.45 97.80
15.25 1.65 95.76
15.25 1.75 95.90
15.25 1.85 96.04
15.25 1.95 96.17
15.25 2.05 96.30
15.25 2.15 96.43
15.25 2.25 96.55
15.25 2.35 96.67
15.25 2.45 96.78
15.25 2.55 96.89
15.25 2.65 97.00
15.25 2.75 97.10
15.25 2.85 97.19
15.25 2.95 97.29
15.25 3.05 97.38
15.25 3.15 97.46
15.25 3.25 97.54
15.25 3.35 97.62
15.25 3.45 97.69
15.75 1.65 95.83
15.75 1.75 95.96
15.75 1.85 96.08
15.75 1.95 96.20
15.75 2.05 96.32
15.75 2.15 96.43
15.75 2.25 96.54
15.75 2.35 96.64
15.75 2.45 96.74
15.75 2.55 96.84
15.75 2.65 96.94
15.75 2.75 97.03
15.75 2.85 97.12
15.75 2.95 97.20
15.75 3.05 97.28
15.75 3.15 97.36
15.75 3.25 97.43
15.75 3.35 97.50
15.75 3.45 97.57
16.25 1.65 95.89
16.25 1.75 96.00
16.25 1.85 96.11
16.25 1.95 96.21
16.25 2.05 96.31
16.25 2.15 96.41
16.25 2.25 96.51
16.25 2.35 96.60
16.25 2.45 96.69
16.25 2.55 96.78
16.25 2.65 96.86
16.25 2.75 96.94
16.25 2.85 97.02
16.25 2.95 97.09
16.25 3.05 97.16
16.25 3.15 97.23
16.25 3.25 97.30
16.25 3.35 97.36
16.25 3.45 97.42
16.75 1.65 95.93
16.75 1.75 96.02
16.75 1.85 96.12
16.75 1.95 96.21
16.75 2.05 96.29
16.75 2.15 96.38
16.75 2.25 96.46
16.75 2.35 96.54
16.75 2.45 96.62
16.75 2.55 96.69
16.75 2.65 96.76
16.75 2.75 96.83
16.75 2.85 96.90
16.75 2.95 96.97
16.75 3.05 97.03
16.75 3.15 97.09
16.75 3.25 97.15
16.75 3.35 97.21
16.75 3.45 97.26
17.25 1.65 95.95
17.25 1.75 96.03
17.25 1.85 96.11
17.25 1.95 96.18
17.25 2.05 96.25
17.25 2.15 96.32
17.25 2.25 96.39
17.25 2.35 96.46
17.25 2.45 96.52
17.25 2.55 96.59
17.25 2.65 96.65
17.25 2.75 96.71
17.25 2.85 96.77
17.25 2.95 96.82
17.25 3.05 96.88
17.25 3.15 96.93
17.25 3.25 96.98
17.25 3.35 97.03
17.25 3.45 97.08
17.75 1.65 95.97
17.75 1.75 96.03
17.75 1.85 96.09
17.75 1.95 96.15
17.75 2.05 96.21
17.75 2.15 96.26
17.75 2.25 96.32
17.75 2.35 96.37
17.75 2.45 96.42
17.75 2.55 96.47
17.75 2.65 96.52
17.75 2.75 96.57
17.75 2.85 96.62
17.75 2.95 96.67
17.75 3.05 96.71
17.75 3.15 96.76
17.75 3.25 96.80
17.75 3.35 96.84
17.75 3.45 96.88
18.25 1.65 95.97
18.25 1.75 96.01
18.25 1.85 96.06
18.25 1.95 96.10
18.25 2.05 96.14
18.25 2.15 96.18
18.25 2.25 96.22
18.25 2.35 96.26
18.25 2.45 96.30
18.25 2.55 96.34
18.25 2.65 96.38
18.25 2.75 96.42
18.25 2.85 96.45
18.25 2.95 96.49
18.25 3.05 96.52
18.25 3.15 96.56
18.25 3.25 96.59
18.25 3.35 96.63
18.25 3.45 96.66
};
\end{axis}
\node[anchor=base west,font=\serifpanel\fontsize{41}{41}\selectfont,inner sep=0pt] at (10.5,-39) {A)};
\node[anchor=base west,font=\serifpanel\fontsize{41}{41}\selectfont,inner sep=0pt] at (15,-460) {B)};
\node[anchor=base west,font=\serifpanel\fontsize{41}{41}\selectfont,inner sep=0pt] at (15,-897) {C)};
\node[anchor=base west,font=\serifpanel\fontsize{41}{41}\selectfont,inner sep=0pt] at (19,-1325) {D)};
\sglegend{580}{604.3}{613}{83.7}{18.2}{626}{64}{Size (nm)}{0.0,60.0,120.0,180.0,240.0,300.0,360.0,420.0,480.0,540.0,600.0}
\sglegend{582}{608}{617.6}{498.3}{19.3}{615.5}{477}{PDI}{-0.02,0.06,0.14,0.22,0.3,0.38,0.46,0.54,0.62,0.7,0.78}
\sglegend{585}{610}{620}{935}{19.3}{626}{915}{ZP (mV)}{-21.0,-20.0,-19.0,-18.0,-17.0,-16.0,-15.0,-14.0,-13.0,-12.0,-11.0}
\sglegend{592}{617.6}{627}{1366.7}{18.5}{630}{1347}{EE (\%)}{94.0,94.5,95.0,95.5,96.0,96.5,97.0,97.5,98.0,98.5,99.0}
\end{tikzpicture}
\end{document}
